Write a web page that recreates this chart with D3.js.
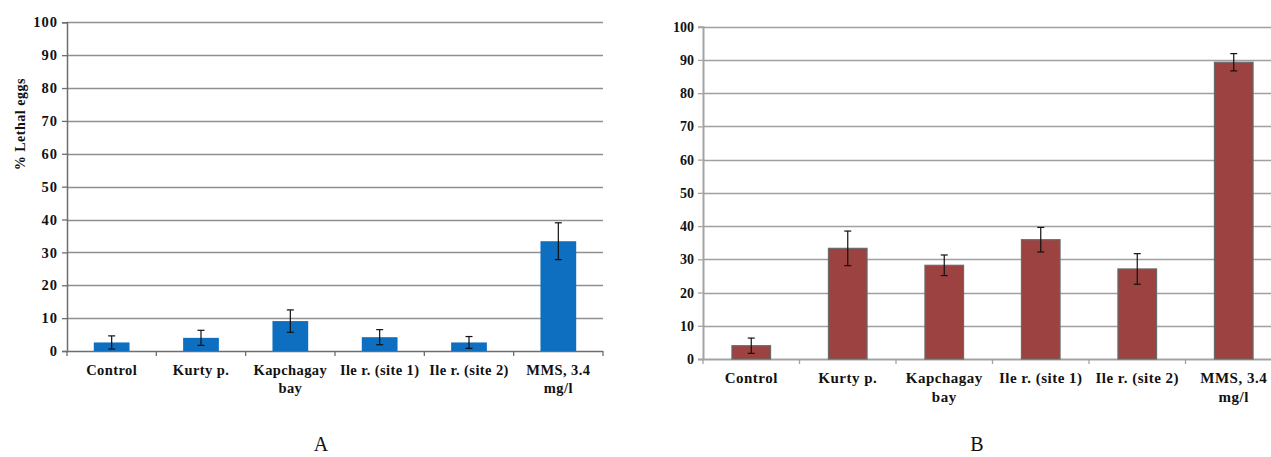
<!DOCTYPE html>
<html>
<head>
<meta charset="utf-8">
<script src="https://cdn.jsdelivr.net/npm/d3@7"></script>
<style>
  html, body { margin: 0; padding: 0; background: #fff; }
  svg { display: block; }
  text { font-family: "Liberation Serif", "Times New Roman", serif; }
</style>
</head>
<body>
<div id="chart"></div>
<script>
// categories shared by both panels ("\n" = line break in the axis label)
const categories = ['Control', 'Kurty p.', 'Kapchagay\nbay', 'Ile r. (site 1)', 'Ile r. (site 2)', 'MMS, 3.4\nmg/l'];
const yTicks = [0, 10, 20, 30, 40, 50, 60, 70, 80, 90, 100];

// panel A
const valuesA = [2.6, 4.0, 9.1, 4.2, 2.6, 33.4];
const errorsA = [2.0, 2.3, 3.4, 2.3, 1.8, 5.6];

// panel B
const valuesB = [4.0, 33.3, 28.2, 35.9, 27.1, 89.3];
const errorsB = [2.3, 5.2, 3.1, 3.7, 4.6, 2.6];

const width = 1271;
const height = 457;

const svg = d3.select('#chart').append('svg').attr('width', width).attr('height', height);

function drawPanel(opts) {
  const { left, right, top, bottom, values, errors, fill, barStroke, axisColor, axisWidth, gridColor,
          tickFont, tickSpacing, catFont, catSpacing, catY, letter, yLabel } = opts;

  const x = d3.scaleBand().domain(categories).range([left, right]).paddingInner(0).paddingOuter(0);
  const y = d3.scaleLinear().domain([0, 100]).range([bottom, top]);
  const barW = x.bandwidth() * 0.4;

  const g = svg.append('g');

  // gridlines
  g.append('g')
    .selectAll('line')
    .data(yTicks.filter((d) => d > 0))
    .join('line')
    .attr('x1', left)
    .attr('x2', right)
    .attr('y1', (d) => Math.round(y(d)) + 0.5)
    .attr('y2', (d) => Math.round(y(d)) + 0.5)
    .attr('stroke', gridColor)
    .attr('stroke-width', 1.3);

  // y axis
  const yAxis = g.append('g')
    .attr('transform', `translate(${left},0)`)
    .call(d3.axisLeft(y).tickValues(yTicks).tickSize(5).tickPadding(4).tickFormat(d3.format('d')));
  yAxis.select('.domain').attr('stroke', axisColor).attr('stroke-width', axisWidth);
  yAxis.selectAll('.tick line').attr('stroke', axisColor).attr('stroke-width', 1.3);
  yAxis.selectAll('.tick text')
    .attr('fill', '#111')
    .attr('font-weight', 'bold')
    .attr('font-size', tickFont)
    .attr('letter-spacing', tickSpacing);

  // x axis (category boundaries as ticks)
  const bounds = categories.map((c) => x(c)).concat([right]);
  g.append('line')
    .attr('x1', left).attr('x2', right)
    .attr('y1', bottom + 0.5).attr('y2', bottom + 0.5)
    .attr('stroke', axisColor).attr('stroke-width', axisWidth);
  g.append('g')
    .selectAll('line')
    .data(bounds)
    .join('line')
    .attr('x1', (d) => d).attr('x2', (d) => d)
    .attr('y1', bottom).attr('y2', bottom + 5)
    .attr('stroke', axisColor).attr('stroke-width', 1.3);

  // category labels
  const lab = g.append('g')
    .selectAll('text')
    .data(categories)
    .join('text')
    .attr('x', (d) => x(d) + x.bandwidth() / 2)
    .attr('y', catY)
    .attr('text-anchor', 'middle')
    .attr('font-weight', 'bold')
    .attr('font-size', catFont)
    .attr('letter-spacing', catSpacing)
    .attr('fill', '#111');
  lab.each(function (d) {
    const lines = d.split('\n');
    d3.select(this).selectAll('tspan')
      .data(lines)
      .join('tspan')
      .attr('x', x(d) + x.bandwidth() / 2)
      .attr('dy', (l, i) => (i === 0 ? 0 : catFont * 1.25))
      .text((l) => l);
  });

  // bars
  const rows = categories.map((c, i) => ({ c, v: values[i], e: errors[i] }));
  g.append('g')
    .selectAll('rect')
    .data(rows)
    .join('rect')
    .attr('x', (d) => x(d.c) + (x.bandwidth() - barW) / 2)
    .attr('width', barW)
    .attr('y', (d) => y(d.v))
    .attr('height', (d) => bottom - y(d.v))
    .attr('fill', fill)
    .attr('stroke', barStroke)
    .attr('stroke-width', barStroke === 'none' ? 0 : 1.2);

  // error bars
  const eb = g.append('g').selectAll('g').data(rows).join('g')
    .attr('stroke', '#111').attr('stroke-width', 1.2);
  eb.append('line')
    .attr('x1', (d) => x(d.c) + x.bandwidth() / 2)
    .attr('x2', (d) => x(d.c) + x.bandwidth() / 2)
    .attr('y1', (d) => y(d.v + d.e))
    .attr('y2', (d) => y(d.v - d.e));
  [1, -1].forEach((s) => {
    eb.append('line')
      .attr('x1', (d) => x(d.c) + x.bandwidth() / 2 - 3.5)
      .attr('x2', (d) => x(d.c) + x.bandwidth() / 2 + 3.5)
      .attr('y1', (d) => y(d.v + s * d.e))
      .attr('y2', (d) => y(d.v + s * d.e));
  });

  // y label
  if (yLabel) {
    g.append('text')
      .attr('transform', `translate(${left - 47},${y(69)}) rotate(-90)`)
      .attr('text-anchor', 'middle')
      .attr('dy', '0.35em')
      .attr('font-weight', 'bold')
      .attr('font-size', 14)
      .attr('letter-spacing', 0.5)
      .attr('fill', '#111')
      .text(yLabel);
  }

  // panel letter
  svg.append('text')
    .attr('x', letter.x)
    .attr('y', letter.y)
    .attr('text-anchor', 'middle')
    .attr('font-size', 20)
    .attr('fill', '#111')
    .text(letter.t);
}

drawPanel({
  left: 67, right: 603, top: 22.3, bottom: 351,
  values: valuesA, errors: errorsA,
  fill: '#0e6ec0', barStroke: 'none',
  axisColor: '#6e6e6e', axisWidth: 1.5, gridColor: '#8f8f8f',
  tickFont: 14.5, tickSpacing: 1, catFont: 14.5, catSpacing: 0.4, catY: 375,
  letter: { x: 321, y: 451, t: 'A' },
  yLabel: '% Lethal eggs'
});

drawPanel({
  left: 703, right: 1282, top: 26.7, bottom: 359,
  values: valuesB, errors: errorsB,
  fill: '#9c4240', barStroke: '#6a6a6a',
  axisColor: '#a3a3a3', axisWidth: 2, gridColor: '#a0a0a0',
  tickFont: 14, tickSpacing: 0, catFont: 15, catSpacing: 0.5, catY: 383,
  letter: { x: 977, y: 451, t: 'B' },
  yLabel: null
});
</script>
</body>
</html>
